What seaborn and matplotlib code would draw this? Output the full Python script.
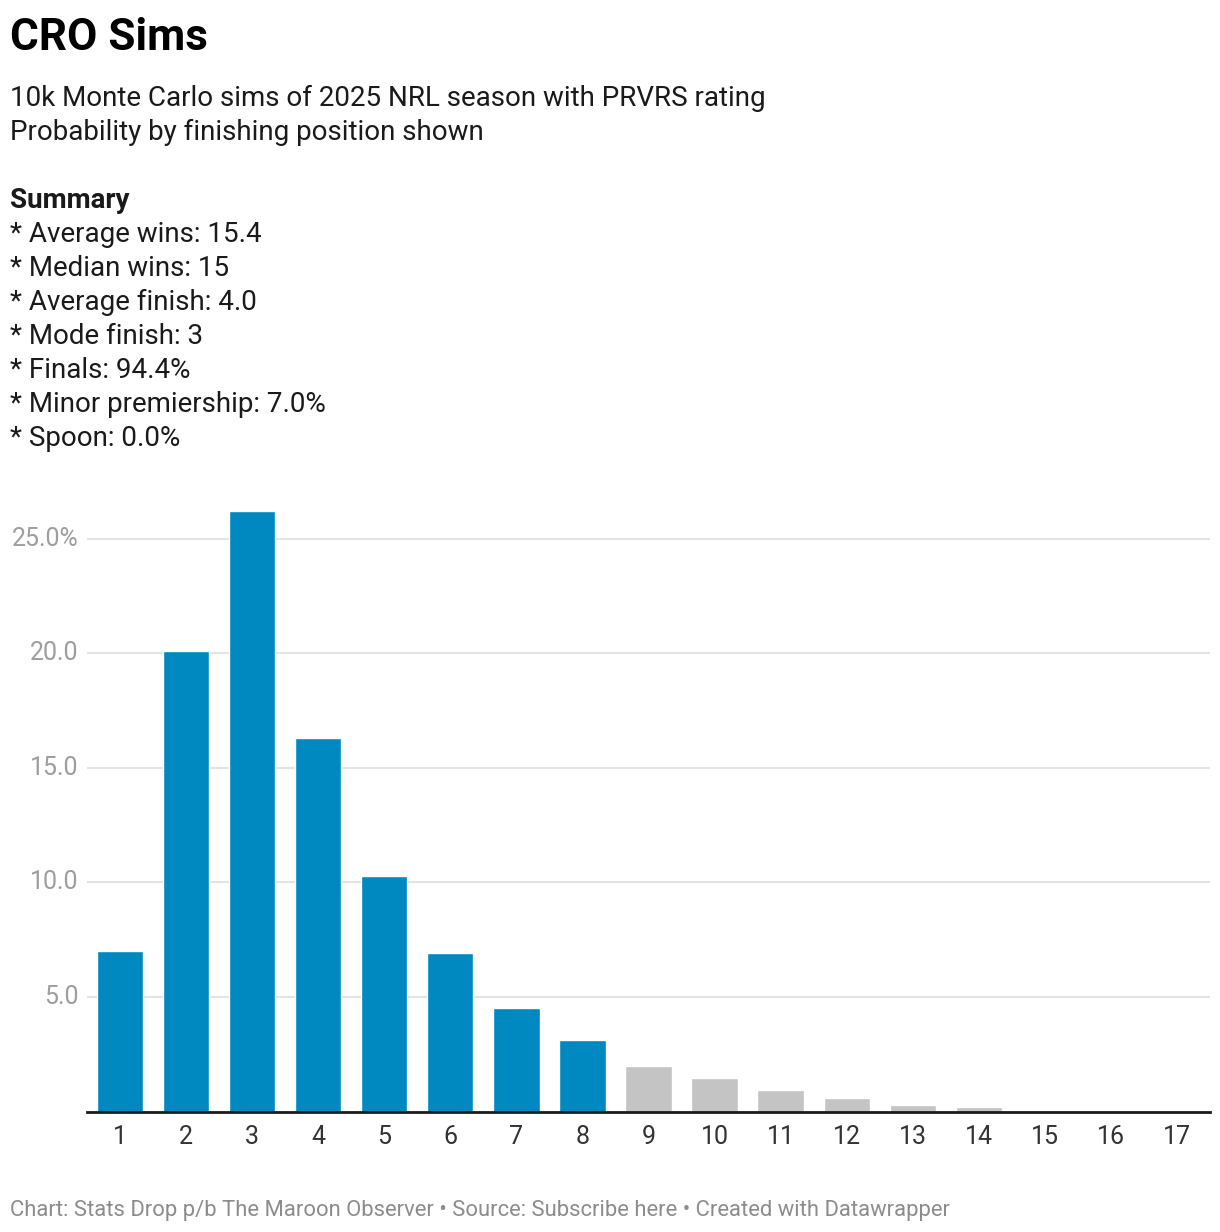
import matplotlib
matplotlib.use("Agg")
import matplotlib.pyplot as plt
import seaborn as sns
import pandas as pd

# finishing position probabilities (%)
positions = [str(i) for i in range(1, 18)]
probability = [7.0, 20.1, 26.2, 16.3, 10.3, 6.9, 4.5, 3.1, 2.0, 1.45, 0.96, 0.57, 0.28, 0.2, 0.0, 0.0, 0.0]
group = ["finals"] * 8 + ["out"] * 9

summary_lines = [
    "* Average wins: 15.4",
    "* Median wins: 15",
    "* Average finish: 4.0",
    "* Mode finish: 3",
    "* Finals: 94.4%",
    "* Minor premiership: 7.0%",
    "* Spoon: 0.0%",
]
ytick_vals = [5, 10, 15, 20, 25]
ytick_labels = ["5.0", "10.0", "15.0", "20.0", "25.0%"]

df = pd.DataFrame({"position": positions, "prob": probability, "group": group})

sns.set_theme(style="white")
plt.rcParams["font.family"] = ["Roboto", "DejaVu Sans"]

W, H = 1220, 1232
fig = plt.figure(figsize=(W / 100, H / 100), dpi=100)
ax = fig.add_axes([87 / W, 1 - 1111.5 / H, (1210 - 87) / W, (1111.5 - 493) / H])

sns.barplot(data=df, x="position", y="prob", hue="group",
            palette={"finals": "#0088c0", "out": "#c4c4c4"},
            width=0.7, dodge=False, legend=False, saturation=1, ax=ax, zorder=2)

ax.set_xlim(-0.5, 16.5)
ax.set_ylim(0, 27)
ax.set_yticks(ytick_vals)
ax.set_yticklabels(ytick_labels)
ax.set_xlabel("")
ax.set_ylabel("")
ax.grid(axis="y", color="#e3e3e3", linewidth=1.5, zorder=0)
ax.set_axisbelow(True)
for s in ["top", "right", "left"]:
    ax.spines[s].set_visible(False)
ax.spines["bottom"].set_color("#1a1a1a")
ax.spines["bottom"].set_linewidth(2)
ax.spines["bottom"].set_zorder(3)
ax.tick_params(axis="y", length=0, pad=6, labelsize=18, labelcolor="#9e9e9e")
ax.tick_params(axis="x", length=0, pad=10, labelsize=18, labelcolor="#333333")
for lab in ax.get_yticklabels():
    lab.set_verticalalignment("center")

def ftext(x, y, s, **kw):
    fig.text(x / W, 1 - y / H, s, va="baseline", ha="left", **kw)

ftext(10, 50, "CRO Sims", fontsize=31.7, fontweight="bold", color="#000000")
ftext(10, 106, "10k Monte Carlo sims of 2025 NRL season with PRVRS rating", fontsize=20, color="#1a1a1a")
ftext(10, 140, "Probability by finishing position shown", fontsize=20, color="#1a1a1a")
ftext(10, 208, "Summary", fontsize=20, fontweight="bold", color="#1a1a1a")
for i, line in enumerate(summary_lines):
    ftext(10, 242 + 34 * i, line, fontsize=20, color="#1a1a1a")

ftext(10, 1216, "Chart: Stats Drop p/b The Maroon Observer \u2022 Source: Subscribe here \u2022 Created with Datawrapper",
      fontsize=15.8, color="#8c8c8c")

fig.savefig("out.png", dpi=100, facecolor="white")
